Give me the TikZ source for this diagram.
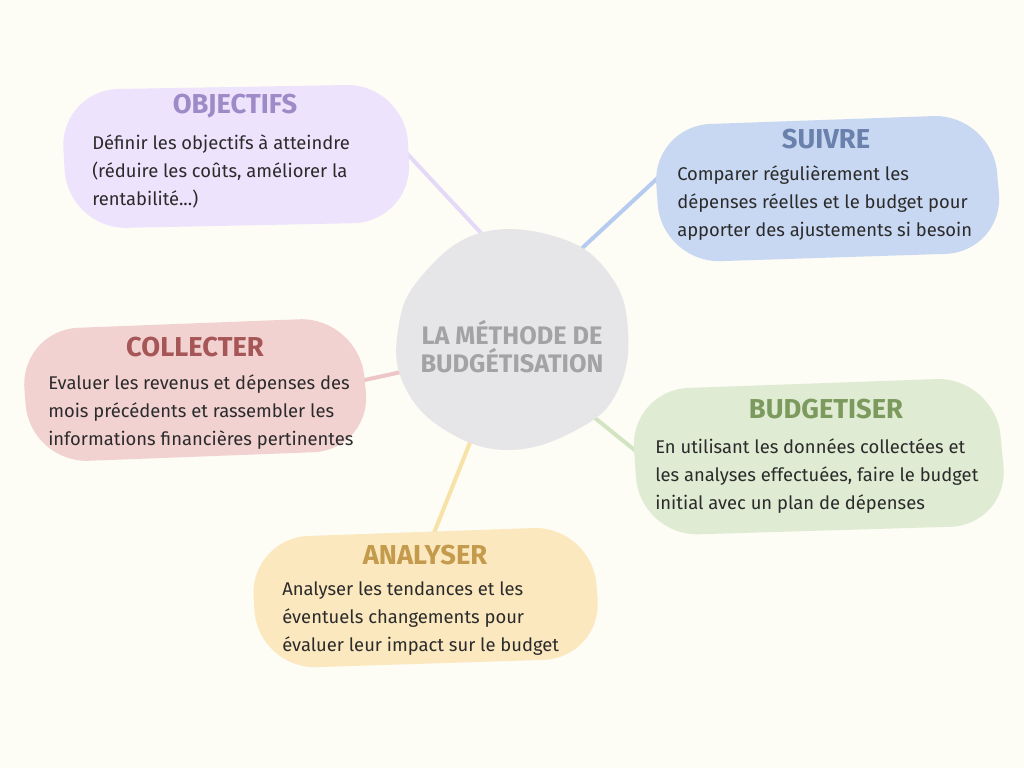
\documentclass[tikz,border=0pt]{standalone}
\usepackage{fontspec}
\setmainfont{Fira Sans}
\usetikzlibrary{positioning}

\definecolor{paper}{HTML}{FDFCF5}
\definecolor{hubfill}{HTML}{E6E6E8}
\definecolor{hubink}{HTML}{A3A3A5}
\definecolor{bodyink}{HTML}{2B2B2B}
\definecolor{objfill}{HTML}{EEE3FC}
\definecolor{objink}{HTML}{9E8AC6}
\definecolor{objline}{HTML}{E4DAF8}
\definecolor{suifill}{HTML}{C9D8F2}
\definecolor{suiink}{HTML}{6A80AD}
\definecolor{suiline}{HTML}{B5CBF0}
\definecolor{budfill}{HTML}{DFEBD3}
\definecolor{budink}{HTML}{7C9A5D}
\definecolor{budline}{HTML}{D3E4C3}
\definecolor{anafill}{HTML}{FBE8BF}
\definecolor{anaink}{HTML}{C49A4C}
\definecolor{analine}{HTML}{F8E2A8}
\definecolor{colfill}{HTML}{F2D2D1}
\definecolor{colink}{HTML}{A65656}
\definecolor{colline}{HTML}{EEC6C8}

\pgfdeclarelayer{paperlayer}
\pgfdeclarelayer{linklayer}
\pgfsetlayers{paperlayer,linklayer,main}

\tikzset{
  blob/.style={rounded corners=44},
  boxtitle/.style={font=\bfseries\fontsize{20.5}{24}\selectfont, inner sep=0pt},
  boxtext/.style={font=\fontsize{13.8}{21}\selectfont, text=bodyink, align=left, anchor=north west, inner sep=0pt},
  hubtext/.style={font=\bfseries\fontsize{19}{21}\selectfont, text=hubink, align=center, inner sep=0pt},
  link/.style={line width=3pt, line cap=round}
}

\begin{document}
\begin{tikzpicture}[x=0.75pt,y=-0.75pt]

	\useasboundingbox (0,0) rectangle (1024,768);
	\begin{pgfonlayer}{paperlayer}
		\fill[paper] (0,0) rectangle (1024,768);
	\end{pgfonlayer}

	% blobs
	\fill[hubfill] plot[smooth cycle, tension=0.7] coordinates {(480,233) (560,238) (610,275) (628,330) (618,390) (580,428) (510,450) (445,430) (404,385) (398,330) (420,278)};
	\fill[objfill, blob] (60,90) -- (405,84) -- (412,222) -- (68,229) -- cycle;
	\fill[suifill, blob] (652,126) -- (992,114) -- (1004,252) -- (662,263) -- cycle;
	\fill[colfill, blob] (20,330) -- (358,317) -- (372,450) -- (30,463) -- cycle;
	\fill[budfill, blob] (630,390) -- (995,377) -- (1009,525) -- (640,536) -- cycle;
	\fill[anafill, blob] (250,538) -- (592,526) -- (602,658) -- (258,669) -- cycle;

	% centre
	\node[hubtext] (hub) at (512,347) {LA MÉTHODE DE\\BUDGÉTISATION};

	% titles
	\node[boxtitle, text=objink] (objtitle) at (235,106) {OBJECTIFS};
	\node[boxtitle, text=suiink] (suititle) at (826,139) {SUIVRE};
	\node[boxtitle, text=colink] (coltitle) at (195,347) {COLLECTER};
	\node[boxtitle, text=budink] (budtitle) at (826,409) {BUDGETISER};
	\node[boxtitle, text=anaink] (anatitle) at (425,555) {ANALYSER};

	% texts
	\node[boxtext] (objtext) at (92,134) {Définir les objectifs à atteindre\\(réduire les coûts, améliorer la\\rentabilité...)};
	\node[boxtext] (suitext) at (677,165) {Comparer régulièrement les\\dépenses réelles et le budget pour\\apporter des ajustements si besoin};
	\node[boxtext] (coltext) at (48,374) {Evaluer les revenus et dépenses des\\mois précédents et rassembler les\\informations financières pertinentes};
	\node[boxtext] (budtext) at (655,438) {En utilisant les données collectées et\\les analyses effectuées, faire le budget\\initial avec un plan de dépenses};
	\node[boxtext] (anatext) at (282,581) {Analyser les tendances et les\\éventuels changements pour\\évaluer leur impact sur le budget};

	% links
	\coordinate (objfoot) at (495,248);
	\coordinate (objend) at (400,146);
	\coordinate (suifoot) at (565,264);
	\coordinate (suiend) at (662,174);
	\coordinate (colfoot) at (415,369);
	\coordinate (colend) at (360,381);
	\coordinate (budfoot) at (585,410);
	\coordinate (budend) at (642,456);
	\coordinate (anafoot) at (475,430);
	\coordinate (anaend) at (428,548);
	\begin{pgfonlayer}{linklayer}
		\draw[link, objline] (objfoot) -- (objend);
		\draw[link, suiline] (suifoot) -- (suiend);
		\draw[link, colline] (colfoot) -- (colend);
		\draw[link, budline] (budfoot) -- (budend);
		\draw[link, analine] (anafoot) -- (anaend);
	\end{pgfonlayer}

\end{tikzpicture}
\end{document}
